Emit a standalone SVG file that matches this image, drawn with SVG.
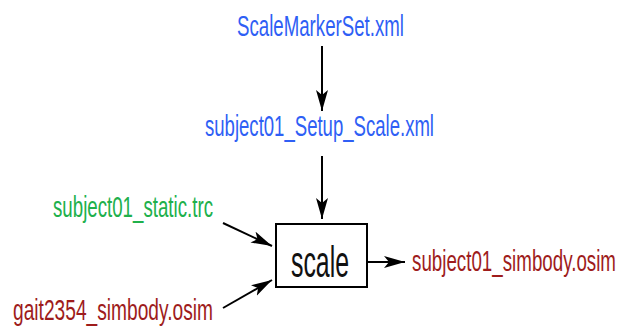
<svg xmlns="http://www.w3.org/2000/svg" width="631" height="329" viewBox="0 0 631 329">
<style>
text{font-family:"Liberation Sans",Arial,sans-serif}
.lbl{font-size:18.8px}
.blue{fill:#2f5ff5}
.green{fill:#20b04b}
.red{fill:#9e1c1c}
.conn{stroke:#000;stroke-width:2;fill:none}
</style>
<defs>
<marker id="ah" markerUnits="userSpaceOnUse" markerWidth="24" markerHeight="14" refX="21" refY="6" orient="auto">
<path d="M0,0 L21,6 L0,12 L5,6 z" fill="#000"/>
</marker>
</defs>
<rect width="631" height="329" fill="#fff"/>
<g id="connectors">
<line class="conn" x1="322" y1="46" x2="322" y2="111" marker-end="url(#ah)"/>
<line class="conn" x1="322" y1="156" x2="322" y2="219" marker-end="url(#ah)"/>
<line class="conn" x1="223" y1="223" x2="272" y2="246" marker-end="url(#ah)"/>
<line class="conn" x1="223" y1="308" x2="272" y2="280" marker-end="url(#ah)"/>
<line class="conn" x1="367" y1="262" x2="405" y2="262" marker-end="url(#ah)"/>
</g>
<g id="ScaleMarkerSet">
<text class="lbl blue" transform="translate(237,36) scale(1,1.6)" textLength="167" lengthAdjust="spacingAndGlyphs">ScaleMarkerSet.xml</text>
</g>
<g id="Setup_Scale">
<text class="lbl blue" transform="translate(205,136) scale(1,1.6)" textLength="229" lengthAdjust="spacingAndGlyphs">subject01_Setup_Scale.xml</text>
</g>
<g id="static_trc">
<text class="lbl green" transform="translate(53,217) scale(1,1.6)" textLength="160" lengthAdjust="spacingAndGlyphs">subject01_static.trc</text>
</g>
<g id="gait2354">
<text class="lbl red" transform="translate(13,320) scale(1,1.6)" textLength="200" lengthAdjust="spacingAndGlyphs">gait2354_simbody.osim</text>
</g>
<g id="scale">
<rect x="276" y="224" width="91" height="63" fill="#fff" stroke="#000" stroke-width="2"/>
<text transform="translate(291,277) scale(1,1.8)" font-size="25" fill="#111" textLength="58" lengthAdjust="spacingAndGlyphs">scale</text>
</g>
<g id="simbody_out">
<text class="lbl red" transform="translate(412,271) scale(1,1.6)" textLength="204" lengthAdjust="spacingAndGlyphs">subject01_simbody.osim</text>
</g>
</svg>
